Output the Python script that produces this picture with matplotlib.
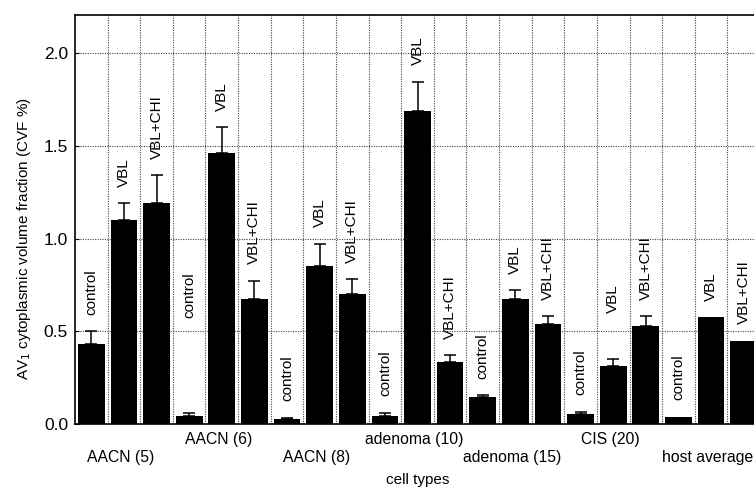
import numpy as np
import matplotlib.pyplot as plt
import matplotlib.transforms as mtransforms

plt.rcParams['font.family'] = ['Liberation Sans', 'DejaVu Sans']

# data
groups = ["AACN (5)", "AACN (6)", "AACN (8)", "adenoma (10)",
          "adenoma (15)", "CIS (20)", "host average"]
treatments = ["control", "VBL", "VBL+CHI"]

control = [0.43, 0.045, 0.027, 0.045, 0.145, 0.054, 0.040]
vbl = [1.10, 1.46, 0.85, 1.69, 0.675, 0.315, 0.575]
vbl_chi = [1.19, 0.675, 0.70, 0.335, 0.54, 0.53, 0.45]

control_err = [0.07, 0.015, 0.008, 0.015, 0.010, 0.011, 0.0]
vbl_err = [0.09, 0.14, 0.12, 0.155, 0.045, 0.035, 0.0]
vbl_chi_err = [0.15, 0.095, 0.08, 0.035, 0.04, 0.05, 0.0]

# bar-label heights that sit higher than the usual gap above the error bar
label_override = {(1, 0): 0.57, (5, 1): 0.60}

values = np.column_stack([control, vbl, vbl_chi]).ravel()
errors = np.column_stack([control_err, vbl_err, vbl_chi_err]).ravel()
names = treatments * len(groups)
x = np.arange(len(values))

fig = plt.figure(figsize=(7.54, 4.88), dpi=100)
ax = fig.add_axes([75 / 754, 64 / 488, 685 / 754, 409 / 488])

# dotted grid: horizontal at value ticks, vertical between bars
for yv in [0.5, 1.0, 1.5, 2.0]:
    ax.axhline(yv, color='#444444', lw=0.8, ls=(0, (1, 1.2)), zorder=0)
for xv in x[:-1] + 0.5:
    ax.axvline(xv, color='#444444', lw=0.8, ls=(0, (1, 1.2)), zorder=0)

ax.bar(x, values, width=0.82, color='black', zorder=2)
has_err = errors > 0
ax.errorbar(x[has_err], values[has_err],
            yerr=[np.zeros(has_err.sum()), errors[has_err]],
            fmt='none', ecolor='black', elinewidth=1.1, capsize=4,
            capthick=1.1, zorder=3)

for i, (v, e, name) in enumerate(zip(values, errors, names)):
    g, t = divmod(i, 3)
    y0 = label_override.get((g, t), v + e + 0.09)
    ax.text(i, y0, name, rotation=90, ha='center', va='bottom',
            fontsize=11, zorder=4)

trans = mtransforms.blended_transform_factory(ax.transData, ax.transAxes)
for g, name in enumerate(groups):
    ypos = -0.083 if g % 2 == 0 else -0.037
    ax.text(3 * g + 0.9, ypos, name, transform=trans, ha='center',
            va='center', fontsize=11.3)

ax.text(10, -0.137, "cell types", transform=trans, ha='center',
        va='center', fontsize=11)
ax.text(-2.05, 1.0, "AV$_1$ cytoplasmic volume fraction (CVF %)",
        rotation=90, ha='center', va='center', fontsize=11)

ax.set_xlim(-0.5, 20.5)
ax.set_ylim(0, 2.205)
ax.set_yticks([0.0, 0.5, 1.0, 1.5, 2.0])
ax.set_yticklabels(["0.0", "0.5", "1.0", "1.5", "2.0"], fontsize=12.5)
ax.set_xticks([])
ax.tick_params(axis='y', direction='in', length=3, width=0.8, pad=5)
for side in ['left', 'top', 'bottom']:
    ax.spines[side].set_linewidth(1.2)
ax.spines['right'].set_visible(False)

fig.savefig("out.png", dpi=100)
